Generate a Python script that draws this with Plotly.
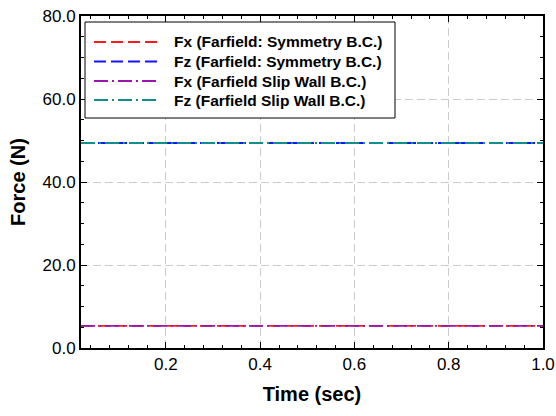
import plotly.graph_objects as go

# Simulation time (sec)
time = [0.02, 0.1, 0.2, 0.3, 0.4, 0.5, 0.6, 0.7, 0.8, 0.9, 1.0]

# Forces (N) for the two farfield boundary conditions
fx_symmetry = [5.35, 5.35, 5.35, 5.35, 5.35, 5.35, 5.35, 5.35, 5.35, 5.35, 5.35]
fz_symmetry = [49.4, 49.4, 49.4, 49.4, 49.4, 49.4, 49.4, 49.4, 49.4, 49.4, 49.4]
fx_slipwall = [5.35, 5.35, 5.35, 5.35, 5.35, 5.35, 5.35, 5.35, 5.35, 5.35, 5.35]
fz_slipwall = [49.4, 49.4, 49.4, 49.4, 49.4, 49.4, 49.4, 49.4, 49.4, 49.4, 49.4]

series_names = [
    "Fx (Farfield: Symmetry B.C.)",
    "Fz (Farfield: Symmetry B.C.)",
    "Fx (Farfield Slip Wall B.C.)",
    "Fz (Farfield Slip Wall B.C.)",
]
series_values = [fx_symmetry, fz_symmetry, fx_slipwall, fz_slipwall]
series_colors = ["#ff1a1a", "#1414ff", "#9a14b0", "#109088"]
series_dashes = ["12px,5px", "12px,5px", "14px,4px,2px,4px", "14px,4px,2px,4px"]

x_ticks = [0.2, 0.4, 0.6, 0.8, 1.0]
y_ticks = [0, 20, 40, 60, 80]

FONT = "Liberation Sans, Arial, sans-serif"

fig = go.Figure()
for name, vals, col, dash in zip(series_names, series_values, series_colors, series_dashes):
    fig.add_trace(go.Scatter(
        x=time, y=vals, mode="lines", name=name, showlegend=False,
        line=dict(color=col, width=1.8, dash=dash),
    ))

# Boxed legend in the upper-left corner of the plot area
L, R, T, B = 81, 543, 16, 348  # plot-area pixel edges
W, H = R - L, B - T


def px(xp):
    return (xp - L) / W


def py(yp):
    return (B - yp) / H


fig.add_shape(type="rect", xref="paper", yref="paper",
              x0=px(85), x1=px(395), y0=py(118), y1=py(22),
              line=dict(color="black", width=1), fillcolor="white", layer="above")
row_y = [42, 61.5, 81, 100]
for name, col, dash, ry in zip(series_names, series_colors, series_dashes, row_y):
    fig.add_shape(type="line", xref="paper", yref="paper",
                  x0=px(94), x1=px(157), y0=py(ry), y1=py(ry),
                  line=dict(color=col, width=1.8, dash=dash), layer="above")
    fig.add_annotation(xref="paper", yref="paper", x=px(172), y=py(ry),
                       xanchor="left", yanchor="middle", showarrow=False,
                       text="<b>" + name + "</b>",
                       font=dict(family=FONT, size=15.5, color="black"))

axis_common = dict(
    showline=True, linecolor="black", linewidth=2, mirror="ticks",
    ticks="inside", ticklen=6, tickwidth=1, tickcolor="black",
    showgrid=True, gridcolor="#cccccc", griddash="8px,4px", gridwidth=1,
    zeroline=False, automargin=False,
    tickfont=dict(family=FONT, size=17, color="black"),
    minor=dict(ticks="inside", ticklen=3, tickcolor="black", showgrid=False),
)

fig.update_xaxes(
    range=[0.02, 1.0], tickvals=x_ticks, tickformat=".1f",
    minor_dtick=0.04, minor_tick0=0,
    title=dict(text="<b>Time (sec)</b>", font=dict(family=FONT, size=20, color="black"),
               standoff=14),
    **axis_common,
)
fig.update_yaxes(
    range=[0, 80], tickvals=y_ticks, tickformat=".1f",
    minor_dtick=5, minor_tick0=0,
    title=dict(text="<b>Force (N)</b>", font=dict(family=FONT, size=20, color="black"),
               standoff=12),
    **axis_common,
)

fig.update_layout(
    width=556, height=416,
    margin=dict(l=L, r=556 - R, t=T, b=416 - B),
    paper_bgcolor="white", plot_bgcolor="white",
    font=dict(family=FONT, color="black"),
)

fig.write_html("out.html")
